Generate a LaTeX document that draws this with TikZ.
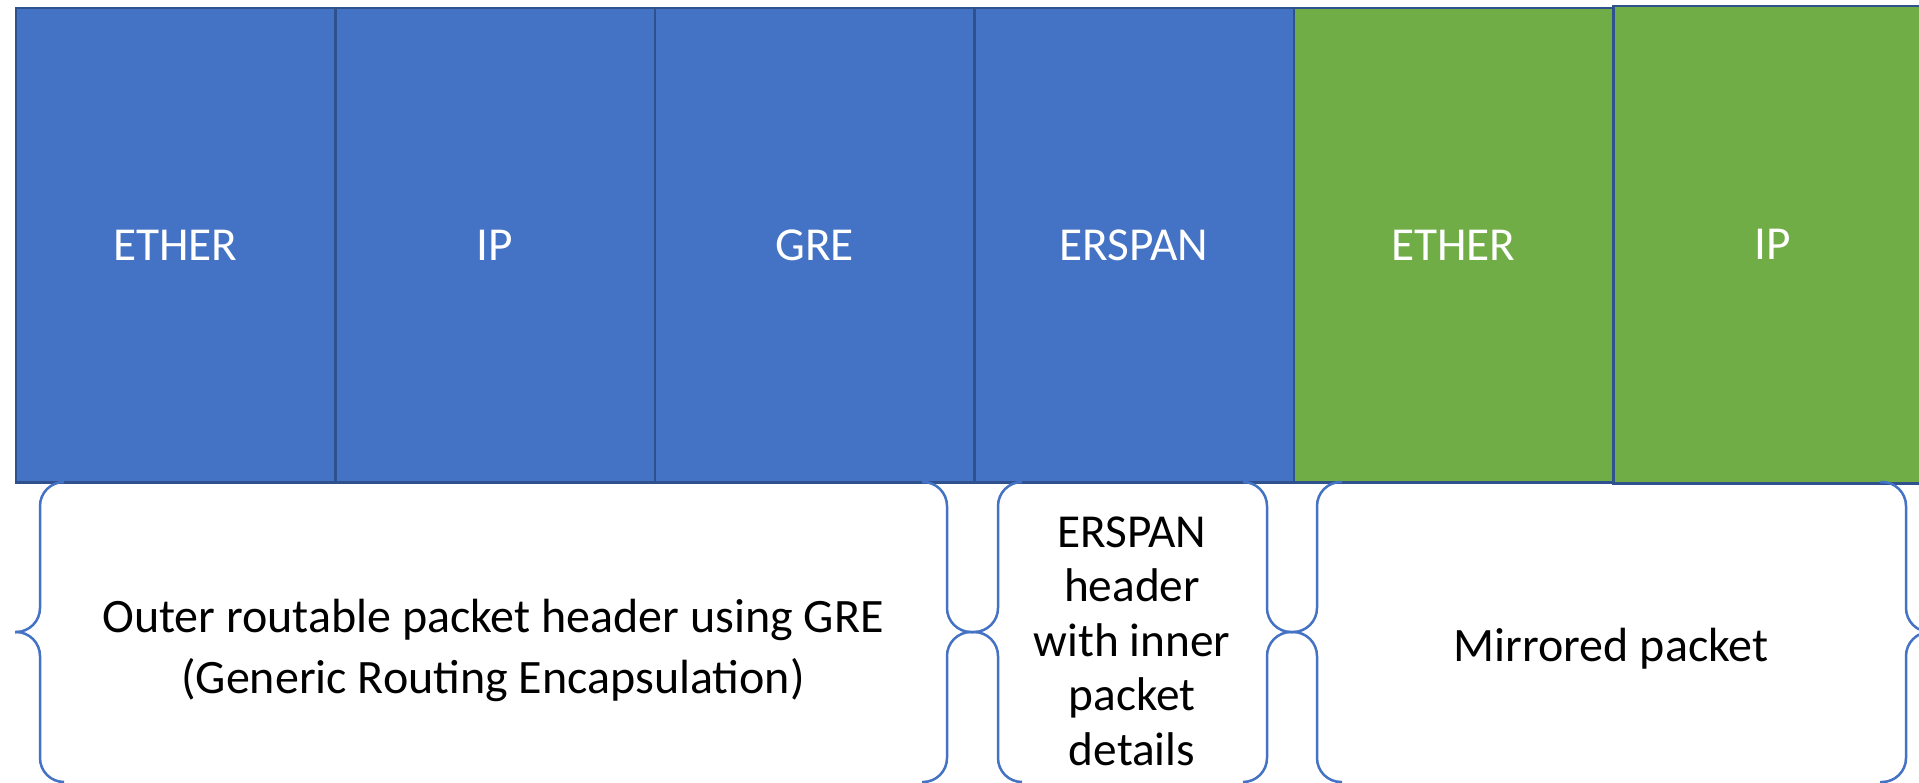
\documentclass[tikz,border=0pt]{standalone}
\usepackage{fontspec}
\setmainfont{Carlito}
\definecolor{boxblue}{HTML}{4472C4}
\definecolor{boxgreen}{HTML}{70AD47}
\definecolor{edgeblue}{HTML}{2F528F}
\definecolor{bracecol}{HTML}{4472C4}
\begin{document}
\begin{tikzpicture}[x=1pt,y=-1pt,
  field/.style={draw=edgeblue, line width=2.5pt, text=white,
    font=\fontsize{47.3}{54.5}\selectfont, minimum width=319.5pt,
    minimum height=474pt, inner sep=0pt, anchor=north west},
  bluefield/.style={field, fill=boxblue},
  greenfield/.style={field, fill=boxgreen},
  brace/.style={draw=bracecol, line width=2.5pt, rounded corners=24pt},
  caption/.style={align=center, text=black, inner sep=0pt}]
\useasboundingbox (0,0) rectangle (1919,783);
\fill[white] (0,0) rectangle (1919,783);
\clip (0,0) rectangle (1919,783);
% packet fields
\node[bluefield] (f1) at (14.5,7) {ETHER};
\node[bluefield] (f2) at (334,7) {IP};
\node[bluefield] (f3) at (653.5,7) {GRE};
\node[bluefield] (f4) at (973,7) {ERSPAN};
\node[greenfield] (f5) at (1292.5,7) {ETHER};
\node[greenfield, minimum height=477pt] (f6) at (1612,5) {IP};
% braces
\foreach \tip/\vx/\ex in {15/40/63, 972/947/922, 972/998/1022, 1292/1267/1243, 1292/1317/1342, 1931/1906/1880}{
  \draw[brace] (\ex,482) -- (\vx,482) -- (\vx,632) -- (\tip,632);
  \draw[brace] (\ex,782) -- (\vx,782) -- (\vx,632) -- (\tip,632);
}
% captions
\node[caption, font=\fontsize{48}{61}\selectfont] (c1) at (493,650) {Outer routable packet header using GRE\\(Generic Routing Encapsulation)};
\node[caption, font=\fontsize{47.3}{54.5}\selectfont] (c2) at (1132,641) {ERSPAN\\header\\with inner\\packet\\details};
\node[caption, font=\fontsize{48}{58}\selectfont] (c3) at (1611,649) {Mirrored packet};
\end{tikzpicture}
\end{document}
